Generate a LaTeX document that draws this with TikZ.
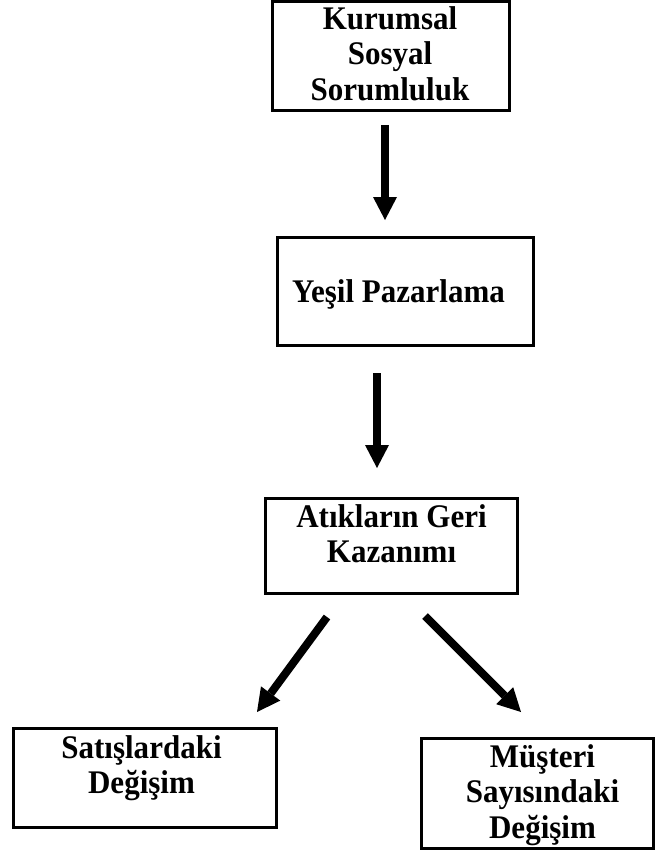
\documentclass[tikz,border=0pt]{standalone}
\usepackage{fontspec}
\setmainfont{Liberation Serif}[FakeStretch=0.94]
\usetikzlibrary{arrows.meta}
% fixed-height first line so that a label's north sits a known distance above its first baseline
\newcommand\firstlinestrut{\rule{0pt}{29pt}}
\begin{document}
\begin{tikzpicture}[x=1pt,y=-1pt,
  box/.style={draw, line width=3pt, inner sep=0pt, outer sep=0pt},
  lbl/.style={inner sep=0pt, anchor=north, align=center,
    font=\fontsize{33}{35.5}\selectfont\bfseries},
  bigarrow/.style={line width=8pt,
    -{Triangle[width=24pt,length=23pt,line width=0pt]}}]
\useasboundingbox (0,0) rectangle (656,861);

% boxes
\node[box, minimum width=237pt, minimum height=109pt] (k1) at (391,56) {};
\node[box, minimum width=256pt, minimum height=108pt] (k2) at (405.5,291.5) {};
\node[box, minimum width=252pt, minimum height=95.5pt] (k3) at (391.5,545.75) {};
\node[box, minimum width=263pt, minimum height=99pt] (k4) at (145,778) {};
\node[box, minimum width=232pt, minimum height=110pt] (k5) at (537.5,793.5) {};

% texts
\node[lbl] (t1) at (390,0) {\firstlinestrut Kurumsal\\Sosyal\\Sorumluluk};
\node[lbl] (t2) at (398.5,273) {\firstlinestrut Yeşil Pazarlama};
\node[lbl] (t3) at (391.5,498) {\firstlinestrut Atıkların Geri\\Kazanımı};
\node[lbl] (t4) at (141.5,729) {\firstlinestrut Satışlardaki\\Değişim};
\node[lbl] (t5) at (542.5,738) {\firstlinestrut Müşteri\\Sayısındaki\\Değişim};

% arrows
\draw[bigarrow] ([xshift=-6pt,yshift=-14.5pt]k1.south) -- ([xshift=-20.5pt,yshift=17.5pt]k2.north);
\draw[bigarrow] ([xshift=-28.5pt,yshift=-27.5pt]k2.south) -- ([xshift=-14.5pt,yshift=30pt]k3.north);
\draw[bigarrow] ([xshift=-64.5pt,yshift=-23.5pt]k3.south) -- ([xshift=112pt,yshift=16.5pt]k4.north);
\draw[bigarrow] ([xshift=33.5pt,yshift=-22.5pt]k3.south) -- ([xshift=-16.5pt,yshift=26.5pt]k5.north);
\end{tikzpicture}
\end{document}
